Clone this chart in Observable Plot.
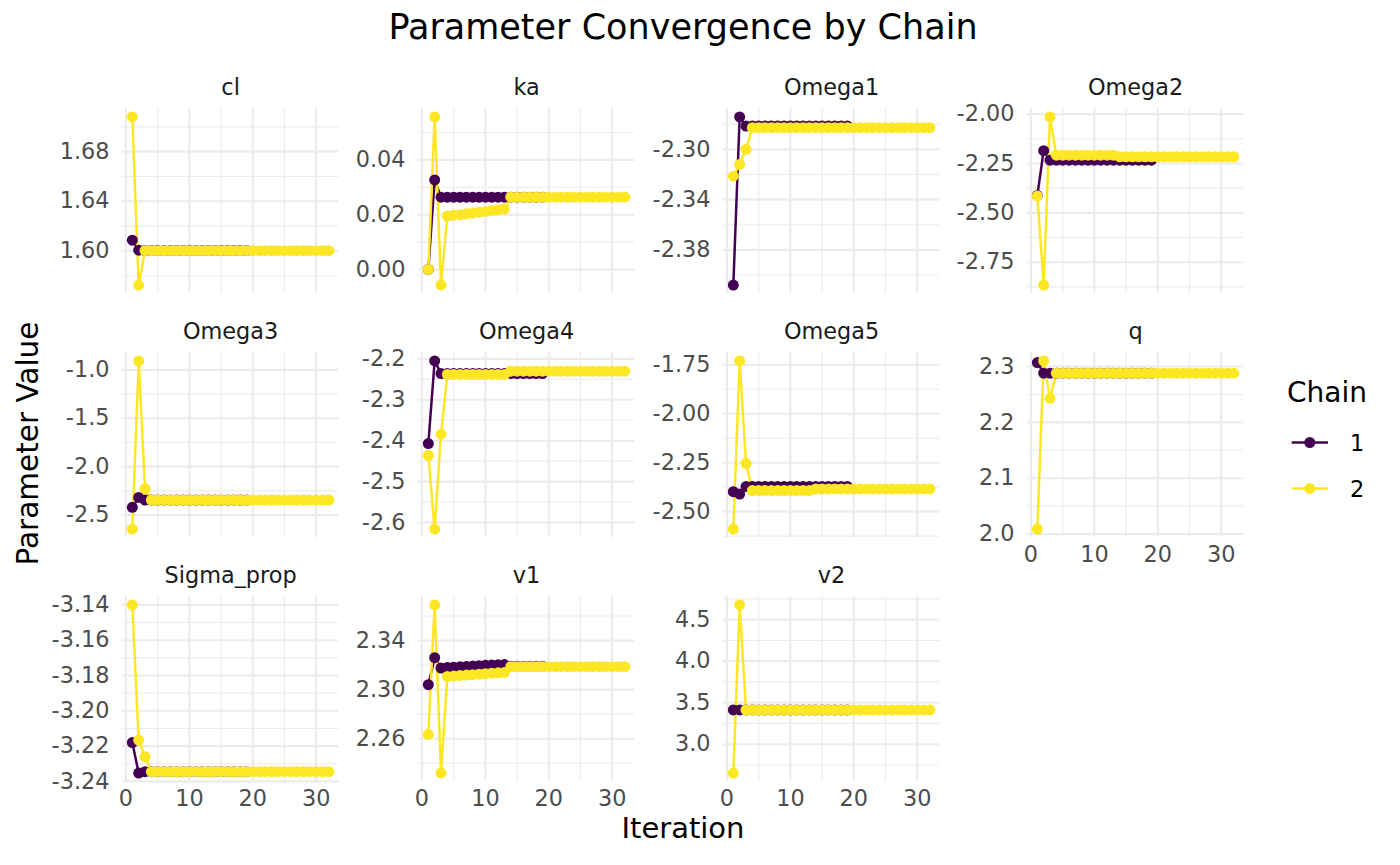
<!DOCTYPE html>
<html>
<head>
<meta charset="utf-8">
<script src="https://cdn.jsdelivr.net/npm/d3@7"></script>
<script src="https://cdn.jsdelivr.net/npm/@observablehq/plot@0.6"></script>
<style>
  body { margin: 0; background: #ffffff; font-family: "DejaVu Sans", sans-serif; }
  #root { position: relative; width: 1400px; height: 865px; overflow: hidden; }
  .abs { position: absolute; white-space: nowrap; }
</style>
</head>
<body>
<div id="root"></div>
<script>
// ---------------- DATA ----------------
const paramNames = ["cl", "ka", "Omega1", "Omega2", "Omega3", "Omega4", "Omega5", "q", "Sigma_prop", "v1", "v2"];
const chainNames = ["1", "2"];
const chainColors = ["#440154", "#FDE725"];
const xTicks = [0, 10, 20, 30];
const xMinor = [5, 15, 25];

// chain 1: iterations 1..19, chain 2: iterations 1..32
const clC1 = [1.6087, 1.6006, 1.6003, 1.6003, 1.6003, 1.6003, 1.6003, 1.6003, 1.6003, 1.6003, 1.6003, 1.6003, 1.6003, 1.6003, 1.6003, 1.6003, 1.6003, 1.6003, 1.6003];
const clC2 = [1.7080, 1.5725, 1.6002, 1.6002, 1.6002, 1.6002, 1.6002, 1.6002, 1.6002, 1.6002, 1.6002, 1.6002, 1.6002, 1.6002, 1.6002, 1.6002, 1.6002, 1.6002, 1.6002, 1.6002, 1.6002, 1.6002, 1.6002, 1.6002, 1.6002, 1.6002, 1.6002, 1.6002, 1.6002, 1.6002, 1.6002, 1.6002];
const clTicks = [1.60, 1.64, 1.68];
const clMinor = [1.58, 1.62, 1.66, 1.70];

const kaC1 = [0.0000, 0.0327, 0.0264, 0.0264, 0.0264, 0.0264, 0.0264, 0.0264, 0.0264, 0.0264, 0.0264, 0.0264, 0.0264, 0.0264, 0.0264, 0.0264, 0.0264, 0.0264, 0.0264];
const kaC2 = [0.0000, 0.0557, -0.0057, 0.0195, 0.0198, 0.0200, 0.0203, 0.0206, 0.0209, 0.0212, 0.0215, 0.0218, 0.0221, 0.0264, 0.0264, 0.0264, 0.0264, 0.0264, 0.0264, 0.0264, 0.0264, 0.0264, 0.0264, 0.0264, 0.0264, 0.0264, 0.0264, 0.0264, 0.0264, 0.0264, 0.0264, 0.0264];
const kaTicks = [0.00, 0.02, 0.04];
const kaMinor = [0.01, 0.03, 0.05];

const omega1C1 = [-2.4080, -2.2742, -2.2815, -2.2815, -2.2815, -2.2815, -2.2815, -2.2815, -2.2815, -2.2815, -2.2815, -2.2815, -2.2815, -2.2815, -2.2815, -2.2815, -2.2815, -2.2815, -2.2815];
const omega1C2 = [-2.3214, -2.3120, -2.3000, -2.2828, -2.2828, -2.2828, -2.2828, -2.2828, -2.2828, -2.2828, -2.2828, -2.2828, -2.2828, -2.2828, -2.2828, -2.2828, -2.2828, -2.2828, -2.2828, -2.2828, -2.2828, -2.2828, -2.2828, -2.2828, -2.2828, -2.2828, -2.2828, -2.2828, -2.2828, -2.2828, -2.2828, -2.2828];
const omega1Ticks = [-2.38, -2.34, -2.30];
const omega1Minor = [-2.40, -2.36, -2.32, -2.28];

const omega2C1 = [-2.412, -2.185, -2.233, -2.233, -2.233, -2.233, -2.233, -2.233, -2.233, -2.233, -2.233, -2.233, -2.233, -2.233, -2.233, -2.233, -2.233, -2.233, -2.233];
const omega2C2 = [-2.415, -2.866, -2.014, -2.208, -2.208, -2.208, -2.208, -2.208, -2.208, -2.208, -2.208, -2.208, -2.208, -2.216, -2.216, -2.216, -2.216, -2.216, -2.216, -2.216, -2.216, -2.216, -2.216, -2.216, -2.216, -2.216, -2.216, -2.216, -2.216, -2.216, -2.216, -2.216];
const omega2Ticks = [-2.75, -2.50, -2.25, -2.00];
const omega2Minor = [-2.875, -2.625, -2.375, -2.125];

const omega3C1 = [-2.420, -2.318, -2.345, -2.345, -2.345, -2.345, -2.345, -2.345, -2.345, -2.345, -2.345, -2.345, -2.345, -2.345, -2.345, -2.345, -2.345, -2.345, -2.345];
const omega3C2 = [-2.645, -0.907, -2.227, -2.345, -2.345, -2.345, -2.345, -2.345, -2.345, -2.345, -2.345, -2.345, -2.345, -2.345, -2.345, -2.345, -2.345, -2.345, -2.345, -2.345, -2.345, -2.345, -2.345, -2.345, -2.345, -2.345, -2.345, -2.345, -2.345, -2.345, -2.345, -2.345];
const omega3Ticks = [-2.5, -2.0, -1.5, -1.0];
const omega3Minor = [-2.25, -1.75, -1.25];

const omega4C1 = [-2.407, -2.205, -2.236, -2.236, -2.236, -2.236, -2.236, -2.236, -2.236, -2.236, -2.236, -2.236, -2.236, -2.236, -2.236, -2.236, -2.236, -2.236, -2.236];
const omega4C2 = [-2.436, -2.616, -2.384, -2.238, -2.238, -2.238, -2.238, -2.238, -2.238, -2.238, -2.238, -2.238, -2.238, -2.230, -2.230, -2.230, -2.230, -2.230, -2.230, -2.230, -2.230, -2.230, -2.230, -2.230, -2.230, -2.230, -2.230, -2.230, -2.230, -2.230, -2.230, -2.230];
const omega4Ticks = [-2.6, -2.5, -2.4, -2.3, -2.2];
const omega4Minor = [-2.55, -2.45, -2.35, -2.25];

const omega5C1 = [-2.398, -2.410, -2.372, -2.372, -2.372, -2.372, -2.372, -2.372, -2.372, -2.372, -2.372, -2.372, -2.372, -2.372, -2.372, -2.372, -2.372, -2.372, -2.372];
const omega5C2 = [-2.589, -1.730, -2.253, -2.392, -2.392, -2.392, -2.392, -2.392, -2.392, -2.392, -2.392, -2.392, -2.392, -2.384, -2.384, -2.384, -2.384, -2.384, -2.384, -2.384, -2.384, -2.384, -2.384, -2.384, -2.384, -2.384, -2.384, -2.384, -2.384, -2.384, -2.384, -2.384];
const omega5Ticks = [-2.50, -2.25, -2.00, -1.75];
const omega5Minor = [-2.625, -2.375, -2.125, -1.875];

const qC1 = [2.307, 2.288, 2.288, 2.288, 2.288, 2.288, 2.288, 2.288, 2.288, 2.288, 2.288, 2.288, 2.288, 2.288, 2.288, 2.288, 2.288, 2.288, 2.288];
const qC2 = [2.009, 2.310, 2.243, 2.288, 2.288, 2.288, 2.288, 2.288, 2.288, 2.288, 2.288, 2.288, 2.288, 2.288, 2.288, 2.288, 2.288, 2.288, 2.288, 2.288, 2.288, 2.288, 2.288, 2.288, 2.288, 2.288, 2.288, 2.288, 2.288, 2.288, 2.288, 2.288];
const qTicks = [2.0, 2.1, 2.2, 2.3];
const qMinor = [2.05, 2.15, 2.25];

const sigmaC1 = [-3.2180, -3.2353, -3.2345, -3.2345, -3.2345, -3.2345, -3.2345, -3.2345, -3.2345, -3.2345, -3.2345, -3.2345, -3.2345, -3.2345, -3.2345, -3.2345, -3.2345, -3.2345, -3.2345];
const sigmaC2 = [-3.1400, -3.2166, -3.2260, -3.2345, -3.2345, -3.2345, -3.2345, -3.2345, -3.2345, -3.2345, -3.2345, -3.2345, -3.2345, -3.2345, -3.2345, -3.2345, -3.2345, -3.2345, -3.2345, -3.2345, -3.2345, -3.2345, -3.2345, -3.2345, -3.2345, -3.2345, -3.2345, -3.2345, -3.2345, -3.2345, -3.2345, -3.2345];
const sigmaTicks = [-3.24, -3.22, -3.20, -3.18, -3.16, -3.14];
const sigmaMinor = [-3.23, -3.21, -3.19, -3.17, -3.15];

const v1C1 = [2.3040, 2.3260, 2.3175, 2.3180, 2.3183, 2.3186, 2.3189, 2.3192, 2.3195, 2.3198, 2.3200, 2.3202, 2.3204, 2.3190, 2.3190, 2.3190, 2.3190, 2.3190, 2.3190];
const v1C2 = [2.2635, 2.3690, 2.2320, 2.3106, 2.3110, 2.3114, 2.3118, 2.3122, 2.3126, 2.3130, 2.3134, 2.3137, 2.3140, 2.3187, 2.3187, 2.3187, 2.3187, 2.3187, 2.3187, 2.3187, 2.3187, 2.3187, 2.3187, 2.3187, 2.3187, 2.3187, 2.3187, 2.3187, 2.3187, 2.3187, 2.3187, 2.3187];
const v1Ticks = [2.26, 2.30, 2.34];
const v1Minor = [2.24, 2.28, 2.32, 2.36];

const v2C1 = [3.412, 3.412, 3.412, 3.412, 3.412, 3.412, 3.412, 3.412, 3.412, 3.412, 3.412, 3.412, 3.412, 3.412, 3.412, 3.412, 3.412, 3.412, 3.412];
const v2C2 = [2.652, 4.677, 3.412, 3.412, 3.412, 3.412, 3.412, 3.412, 3.412, 3.412, 3.412, 3.412, 3.412, 3.412, 3.412, 3.412, 3.412, 3.412, 3.412, 3.412, 3.412, 3.412, 3.412, 3.412, 3.412, 3.412, 3.412, 3.412, 3.412, 3.412, 3.412, 3.412];
const v2Ticks = [3.0, 3.5, 4.0, 4.5];
const v2Minor = [2.75, 3.25, 3.75, 4.25, 4.75];

// ---------------- BUILD ----------------
const seriesC1 = [clC1, kaC1, omega1C1, omega2C1, omega3C1, omega4C1, omega5C1, qC1, sigmaC1, v1C1, v2C1];
const seriesC2 = [clC2, kaC2, omega1C2, omega2C2, omega3C2, omega4C2, omega5C2, qC2, sigmaC2, v1C2, v2C2];
const tickSets = [clTicks, kaTicks, omega1Ticks, omega2Ticks, omega3Ticks, omega4Ticks, omega5Ticks, qTicks, sigmaTicks, v1Ticks, v2Ticks];
const minorSets = [clMinor, kaMinor, omega1Minor, omega2Minor, omega3Minor, omega4Minor, omega5Minor, qMinor, sigmaMinor, v1Minor, v2Minor];

const root = document.getElementById("root");

// layout (plot-area positions)
const colLeft = [122.2, 418.2, 722.5, 1026.5];
const rowTop = [107.6, 351.6, 595.9];
const PW = 216.2, PH = 185;
const ML = 80, MR = 8, MT = 40, MB = 40;
const FONT = "'DejaVu Sans', sans-serif";

paramNames.forEach((name, i) => {
  const row = Math.floor(i / 4), col = i % 4;
  const data = [
    ...seriesC1[i].map((v, k) => ({iter: k + 1, value: v, chain: chainNames[0]})),
    ...seriesC2[i].map((v, k) => ({iter: k + 1, value: v, chain: chainNames[1]}))
  ];
  const vals = data.map(d => d.value);
  const lo = d3.min(vals), hi = d3.max(vals), pad = (hi - lo) * 0.05;
  const y0 = lo - pad, y1 = hi + pad;
  const ticks = tickSets[i];
  const minor = minorSets[i].filter(v => v >= y0 && v <= y1);
  const dec = d3.max(ticks, t => { const s = String(t); const j = s.indexOf("."); return j < 0 ? 0 : s.length - j - 1; });
  const showX = row === 2 || i === 7;

  const chart = Plot.plot({
    width: ML + PW + MR,
    height: MT + PH + MB,
    marginLeft: ML, marginRight: MR, marginTop: MT, marginBottom: MB,
    style: {fontSize: "22.4px", fontFamily: FONT, color: "#4d4d4d", background: "transparent", overflow: "visible"},
    x: {domain: [-0.55, 33.55], ticks: xTicks, tickSize: 0, tickPadding: 9, axis: showX ? "bottom" : null, label: null},
    y: {domain: [y0, y1], ticks: ticks, tickSize: 0, tickPadding: 13, tickFormat: d => d.toFixed(dec), label: null},
    color: {domain: chainNames, range: chainColors},
    marks: [
      Plot.ruleY(minor, {stroke: "#ebebeb", strokeWidth: 1.1}),
      Plot.ruleX(xMinor, {stroke: "#ebebeb", strokeWidth: 1.1}),
      Plot.ruleY(ticks, {stroke: "#ebebeb", strokeWidth: 2.1}),
      Plot.ruleX(xTicks, {stroke: "#ebebeb", strokeWidth: 2.1}),
      Plot.line(data, {x: "iter", y: "value", stroke: "chain", z: "chain", strokeWidth: 2.5}),
      Plot.dot(data, {x: "iter", y: "value", fill: "chain", r: 5.5}),
      Plot.text([name], {frameAnchor: "top", text: d => d, dy: -21, lineAnchor: "middle", fill: "#1a1a1a", fontSize: 22.4})
    ]
  });
  chart.style.position = "absolute";
  chart.style.left = (colLeft[col] - ML) + "px";
  chart.style.top = (rowTop[row] - MT) + "px";
  root.appendChild(chart);
});

// Title
const title = document.createElement("div");
title.className = "abs";
title.textContent = "Parameter Convergence by Chain";
Object.assign(title.style, {left: "0px", width: "1366px", top: "10.4px", textAlign: "center", fontSize: "35px", lineHeight: "35px", color: "#000"});
root.appendChild(title);

// Y label
const ylab = document.createElement("div");
ylab.className = "abs";
ylab.textContent = "Parameter Value";
Object.assign(ylab.style, {left: (28 - 200) + "px", top: (443 - 14.5) + "px", width: "400px", height: "29px", textAlign: "center", fontSize: "29.5px", lineHeight: "29px", color: "#000", transform: "rotate(-90deg)"});
root.appendChild(ylab);

// X label
const xlab = document.createElement("div");
xlab.className = "abs";
xlab.textContent = "Iteration";
Object.assign(xlab.style, {left: "0px", width: "1366px", top: "813.5px", textAlign: "center", fontSize: "29px", lineHeight: "29px", color: "#000"});
root.appendChild(xlab);

// Legend
const lg = d3.select(root).append("svg")
  .attr("width", 140).attr("height", 140)
  .style("position", "absolute").style("left", "1270px").style("top", "370px")
  .style("font-family", FONT);
lg.append("text").attr("x", 17).attr("y", 31.7).attr("font-size", 28).attr("fill", "#000").text("Chain");
const rowsY = [72.5, 118.5];
chainNames.forEach((c, k) => {
  const g = lg.append("g");
  g.append("line").attr("x1", 21.7).attr("x2", 58).attr("y1", rowsY[k]).attr("y2", rowsY[k])
    .attr("stroke", chainColors[k]).attr("stroke-width", 2.5);
  g.append("circle").attr("cx", 39.8).attr("cy", rowsY[k]).attr("r", 5.5).attr("fill", chainColors[k]);
  g.append("text").attr("x", 80).attr("y", rowsY[k] + 8.2).attr("font-size", 22.4).attr("fill", "#000").text(c);
});
</script>
</body>
</html>
